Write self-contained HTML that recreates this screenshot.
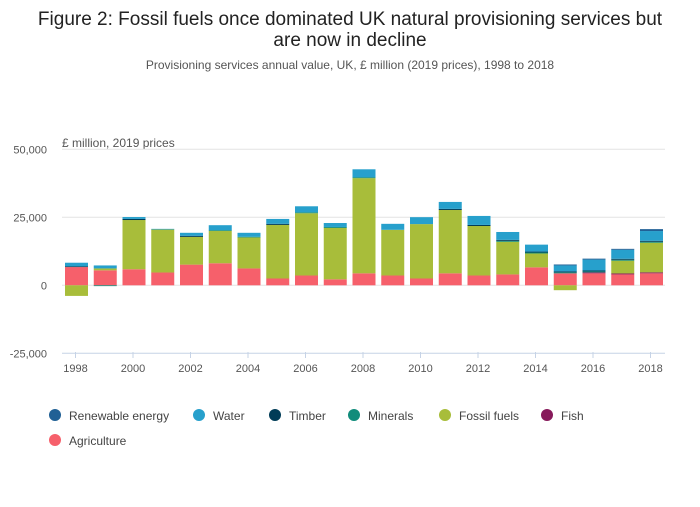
<!DOCTYPE html>
<html><head><meta charset="utf-8"><style>
body{margin:0;background:#fff;font-family:"Liberation Sans",sans-serif;}
svg text{font-family:"Liberation Sans",sans-serif;}
</style></head><body>
<svg id="chart" width="700" height="502" xmlns="http://www.w3.org/2000/svg">
<text x="350" y="25" text-anchor="middle" font-size="19" fill="#222">Figure 2: Fossil fuels once dominated UK natural provisioning services but</text>
<text x="350" y="46" text-anchor="middle" font-size="19" fill="#222">are now in decline</text>
<text x="350" y="69" text-anchor="middle" font-size="12" fill="#555">Provisioning services annual value, UK, £ million (2019 prices), 1998 to 2018</text>
<text x="62" y="147" font-size="12" fill="#555">£ million, 2019 prices</text>
<g id="grid"></g><g id="bars"></g><g id="xaxis"></g><g id="legend"></g>
</svg>
<script>
const years=[1998,1999,2000,2001,2002,2003,2004,2005,2006,2007,2008,2009,2010,2011,2012,2013,2014,2015,2016,2017,2018];
const agriculture=[6700,5500,5900,4700,7600,8100,6200,2500,3600,2200,4400,3600,2500,4400,3600,4000,6600,4400,4400,4000,4400];
const fish=[0,0,0,0,0,0,0,0,0,0,0,0,0,0,0,0,0,0,350,350,350];
const fossil=[-3900,700,18100,15800,10200,11900,11400,19700,22900,18900,35000,16800,20000,23300,18200,12000,5100,-1800,0,4700,10900];
const minerals=[0,-300,0,0,0,300,250,0,350,350,350,0,0,0,0,350,350,350,350,350,350];
const timber=[300,0,400,0,400,0,0,400,0,0,0,0,0,400,400,350,350,350,350,350,350];
const water=[1300,1100,700,250,1100,1800,1450,1800,2200,1450,2900,2200,2550,2550,3300,2900,2550,2200,4000,3300,3600];
const renewable=[0,0,0,0,0,0,0,0,0,0,0,0,0,0,0,0,0,350,350,350,700];
const yTicks=[50000,25000,0,-25000];
const yTickLabels=["50,000","25,000","0","-25,000"];
const xTickYears=[1998,2000,2002,2004,2006,2008,2010,2012,2014,2016,2018];

const NS="http://www.w3.org/2000/svg";
const y0=285.3, pxPer=68/25000;
const yS=v=>y0-v*pxPer;
const x0=65, step=28.75, bw=23;
const xS=i=>x0+i*step;
function mk(tag,attrs,parent){const e=document.createElementNS(NS,tag);for(const k in attrs)e.setAttribute(k,attrs[k]);parent.appendChild(e);return e;}
const grid=document.getElementById('grid');
yTicks.forEach((t,i)=>{
  const gl=mk('line',{x1:62,x2:665,y1:yS(t),y2:yS(t),stroke:t===-25000?'#c6d3e6':'#e3e3e3','stroke-width':1},grid);
  
  
  const tl=mk('text',{x:47,y:yS(t)+4,'text-anchor':'end','font-size':11,fill:'#555'},grid);
  tl.textContent=yTickLabels[i];
  
  
});
const series=[
 {name:'agriculture',vals:agriculture,color:'#f6606b'},
 {name:'fish',vals:fish,color:'#871a5b'},
 {name:'fossil-fuels',vals:fossil,color:'#a8bd3a'},
 {name:'minerals',vals:minerals,color:'#118c7b'},
 {name:'timber',vals:timber,color:'#003c57'},
 {name:'water',vals:water,color:'#27a0cc'},
 {name:'renewable-energy',vals:renewable,color:'#206095'}];
const bars=document.getElementById('bars');
years.forEach((yr,i)=>{
  let pos=0,neg=0;
  series.forEach(s=>{
    const v=s.vals[i]; if(!v) return;
    let a,b;
    if(v>0){a=pos;b=pos+v;pos=b;}else{a=neg;b=neg+v;neg=b;}
    const r=mk('rect',{x:xS(i),width:bw,y:Math.min(yS(a),yS(b)),height:Math.abs(yS(a)-yS(b)),fill:s.color},bars);
    
    
  });
});
const xa=document.getElementById('xaxis');
years.forEach((yr,i)=>{
  if(xTickYears.indexOf(yr)<0)return;
  const cx=xS(i)+bw/2-1;
  const tk=mk('line',{x1:cx,x2:cx,y1:352,y2:358,stroke:'#c6d3e6'},xa);
  
  
  const t=mk('text',{x:cx,y:372,'text-anchor':'middle','font-size':11,fill:'#555'},xa);
  t.textContent=yr;
  
  
});
const legendItems=[['Renewable energy','#206095',55,416],['Water','#27a0cc',199,416],['Timber','#003c57',275,416],['Minerals','#118c7b',354,416],['Fossil fuels','#a8bd3a',445,416],['Fish','#871a5b',547,416],['Agriculture','#f6606b',55,441]];
const lg=document.getElementById('legend');
legendItems.forEach(it=>{
  const g=mk('g',{},lg);
  
  
  mk('circle',{cx:it[2],cy:it[3]-1,r:6,fill:it[1]},g);
  const t=mk('text',{x:it[2]+14,y:it[3]+4,'font-size':12,fill:'#444'},g);
  t.textContent=it[0];
});
</script>
</body></html>
